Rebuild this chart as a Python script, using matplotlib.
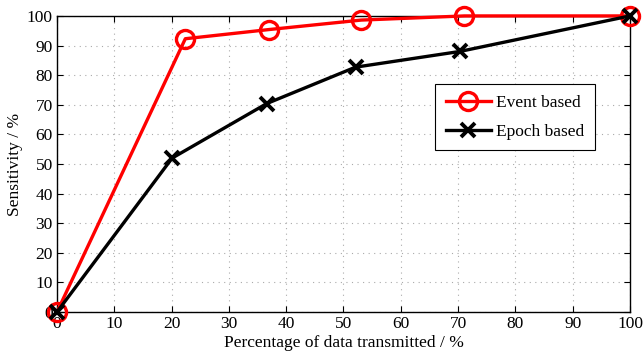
import matplotlib

matplotlib.use("Agg")

import matplotlib.pyplot as plt

event_x = [0, 22.4, 37.0, 53.1, 71.1, 100]
event_y = [0, 92.3, 95.4, 98.6, 100, 100]
epoch_x = [0, 20.1, 36.6, 52.1, 70.3, 100]
epoch_y = [0, 52.0, 70.4, 82.7, 88.0, 100]
ticks = list(range(0, 101, 10))

plt.rcParams["font.family"] = ["Liberation Serif", "DejaVu Serif"]
plt.rcParams["font.size"] = 12.5

fig = plt.figure(figsize=(6.43, 3.62), dpi=100)
ax = fig.add_axes([0.0886, 0.138, 0.8912, 0.818])

ax.plot(event_x, event_y, color="red", lw=2.4, marker="o", ms=13,
        mfc="none", mew=2.4, label="Event based", clip_on=False, zorder=3)
ax.plot(epoch_x, epoch_y, color="black", lw=2.4, marker="x", ms=10,
        mew=2.8, label="Epoch based", clip_on=False, zorder=4)

ax.set_xlim(0, 100)
ax.set_ylim(0, 100)
ax.set_xticks(ticks)
ax.set_yticks(ticks)
ax.tick_params(direction="in", top=True, right=True, length=4, width=0.8,
               labelsize=12.5, pad=3)
ax.grid(True, linestyle=(0, (1, 4)), color="#aaaaaa", linewidth=0.8)
for spine in ax.spines.values():
    spine.set_linewidth(1.0)

ax.set_xlabel("Percentage of data transmitted / %", labelpad=2)
ax.set_ylabel("Sensitivity / %", labelpad=3)

leg = ax.legend(loc="upper left", bbox_to_anchor=(0.66, 0.77), borderaxespad=0,
                fancybox=False, edgecolor="black", framealpha=1,
                handlelength=2.6, borderpad=0.6, labelspacing=0.75, handletextpad=0.3)
leg.get_frame().set_linewidth(0.8)

fig.savefig("out.png", dpi=100)
